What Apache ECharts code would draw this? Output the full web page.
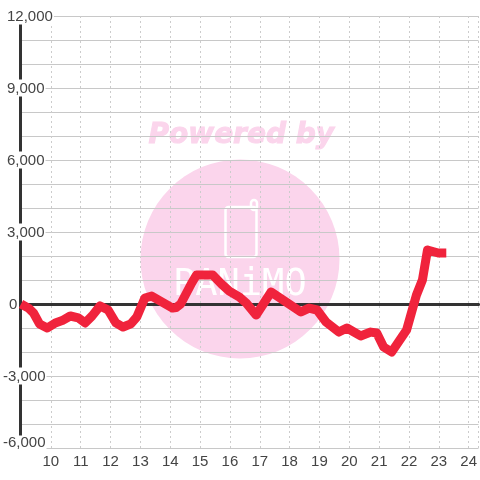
<!DOCTYPE html>
<html><head><meta charset="utf-8">
<style>html,body{margin:0;padding:0;background:#fff}#c{width:480px;height:480px}</style>
<script src="https://cdn.jsdelivr.net/npm/echarts@6/dist/echarts.min.js"></script>
</head><body><div id="c"></div>
<script>
var hours=[9.00,9.25,9.42,9.62,9.88,10.15,10.38,10.65,10.92,11.15,11.38,11.65,11.92,12.18,12.42,12.68,12.88,13.15,13.38,14.08,14.2,14.35,14.72,14.88,15.42,15.72,15.98,16.32,16.55,16.88,17.38,17.88,18.38,18.65,18.92,19.22,19.65,19.92,20.38,20.72,20.92,21.15,21.42,21.92,22.08,22.25,22.45,22.62,22.98,23.25];
var values=[0,-170,-375,-830,-1000,-790,-690,-500,-580,-790,-500,-80,-250,-790,-960,-830,-540,250,330,-170,-150,0,875,1210,1210,830,540,290,40,-460,500,80,-330,-170,-250,-750,-1170,-1000,-1330,-1170,-1210,-1790,-2000,-1080,-375,375,1000,2250,2125,2125];
var yMin=-6000, yMax=12000, yStep=1000, yLabelStep=3000;
var xMin=9, xMax=24.33, xStep=1;
var watermarkTitle='Powered by', watermarkName='PANiMO';

var chart=echarts.init(document.getElementById('c'),null,{renderer:'canvas'});
var font='"Liberation Sans", Arial, sans-serif';
var labelBox={fontSize:15,fontFamily:font,color:'#444',backgroundColor:'#fff',lineHeight:14};
function box(p){return Object.assign({},labelBox,{padding:p});}
chart.setOption({
  animation:false,
  grid:{left:20,right:0,top:16,bottom:32},
  graphic:[
    {type:'circle',zlevel:-1,shape:{cx:240,cy:259,r:99.5},style:{fill:'#fbd5ec'},silent:true},
    {type:'text',zlevel:-1,left:148,top:121,style:{text:watermarkTitle,fill:'#fbd5ec',stroke:'#fbd5ec',lineWidth:1,font:'italic bold 28px "DejaVu Sans"'},silent:true},
    {type:'rect',zlevel:-1,shape:{x:225.5,y:207,width:31,height:50,r:3},style:{fill:'none',stroke:'#fff',lineWidth:2.5},silent:true},
    {type:'rect',zlevel:-1,shape:{x:251,y:200,width:6,height:10,r:3},style:{fill:'none',stroke:'#fff',lineWidth:2.5},silent:true},
    {type:'text',zlevel:-1,left:173,top:267,style:{text:watermarkName,fill:'#fff',font:'37px "DejaVu Sans Mono"'},silent:true}
  ],
  xAxis:[
    {type:'value',min:xMin,max:xMax,interval:xStep,position:'bottom',
     axisLine:{show:false,onZero:false},axisTick:{show:false},
     axisLabel:{showMinLabel:false,showMaxLabel:false,margin:6,fontSize:15,fontFamily:font,color:'#444'},
     splitLine:{show:true,lineStyle:{color:'#cccccc',type:[2,3],width:1}}},
    {type:'value',min:xMin,max:xMax,interval:xStep,position:'top',
     axisLine:{show:true,onZero:true,lineStyle:{color:'#333',width:3}},
     axisTick:{show:false},axisLabel:{show:false},splitLine:{show:false}}
  ],
  yAxis:{type:'value',min:yMin,max:yMax,interval:yStep,position:'left',offset:1,
    axisLine:{show:true,onZero:false,lineStyle:{color:'#333',width:3}},axisTick:{show:false},
    splitLine:{show:true,lineStyle:{color:'#c8c8c8',width:1}},
    axisLabel:{margin:17,align:'left',
      formatter:function(v){
        if(v%yLabelStep!==0) return '';
        var s=Math.abs(v).toString().replace(/\B(?=(\d{3})+$)/g,',');
        if(v<0) s='-'+s;
        if(v===yMin) return '{low|'+s+'}';
        if(v<0) return '{neg|'+s+'}';
        if(v===0) return '{zero|'+s+'}';
        return '{pos|'+s+'}';
      },
      rich:{pos:box([2,1,0,4]),zero:box([2,0,0,6]),neg:box([2,1,0,0]),low:box([0,1,10,0])}
    }
  },
  series:[{type:'line',xAxisIndex:0,showSymbol:false,smooth:false,z:5,
    data:hours.map(function(h,i){return [h,values[i]];}),
    lineStyle:{color:'#f0233c',width:9,join:'round',cap:'butt'}}]
});
</script></body></html>
